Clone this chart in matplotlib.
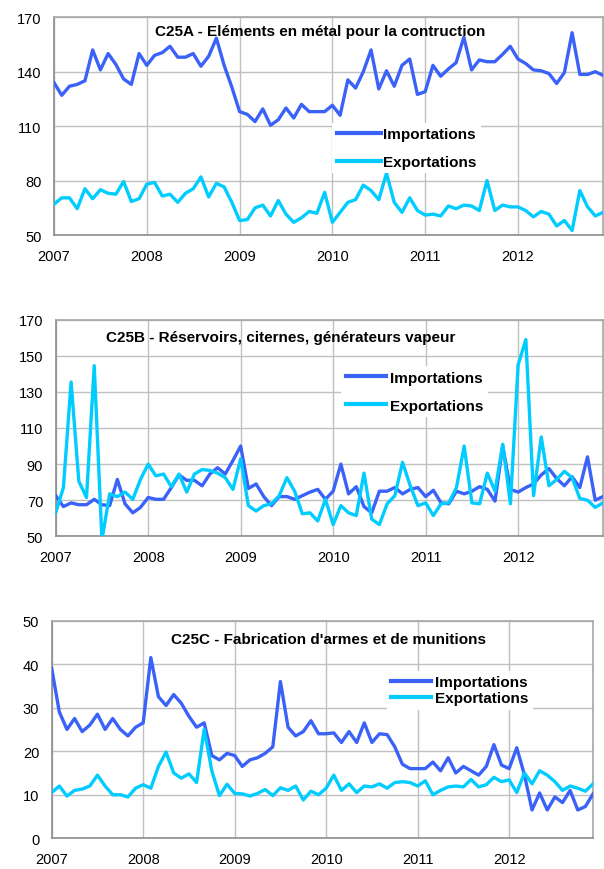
import matplotlib.pyplot as plt

plt.rcParams['font.family'] = ['Liberation Sans', 'DejaVu Sans']

# monthly series, Jan 2007 .. Dec 2012
years = ['2007', '2008', '2009', '2010', '2011', '2012']
months = list(range(72))

c25a_imp = [134, 127, 132, 133, 135, 152, 141, 150, 144, 136, 133, 150,
            143.5, 149, 150.5, 154, 148, 148, 150, 143, 148.5, 158.5, 143.5, 131.5,
            118, 116.5, 112.5, 119.5, 110.5, 113.5, 120, 114.5, 122, 118, 118, 118,
            121.5, 116, 135.5, 131, 140, 152, 130.5, 140.5, 132, 143.5, 147, 127.5,
            129, 143.5, 137.5, 141.5, 145, 159, 141, 146.5, 145.5, 145.5, 149.5, 154,
            147, 144.5, 141, 140.5, 139, 133.5, 139.5, 161.5, 138.5, 138.5, 140, 138]
c25a_exp = [67, 70.5, 70.5, 64.5, 75.5, 70, 75, 73, 72.5, 79.5, 68.5, 70,
            78, 79, 71.5, 72.5, 68, 73, 75.5, 82, 71, 78.5, 76.5, 68,
            58, 58.5, 65, 66.5, 60.5, 69, 61.5, 57, 59.5, 63, 62, 73.5,
            57, 62.5, 68, 69.5, 77.5, 74.5, 69.5, 84, 68, 62.5, 70.5, 63.5,
            61, 61.5, 60.5, 66, 64.5, 66.5, 66, 63.5, 80, 63.5, 66.5, 65.5,
            65.5, 63.5, 60, 63, 61.5, 55, 58, 52.5, 74.5, 65.5, 60.5, 62.5]

c25b_imp = [72.5, 66.5, 68.5, 67.5, 67.5, 70.5, 67.5, 67, 81.5, 68, 63, 66,
            71.5, 70.5, 70.5, 77, 84, 81, 81, 78, 84.5, 88, 84.5, 92,
            100, 76.5, 79, 72, 67, 72, 72, 70.5, 72.5, 74.5, 76, 70.5,
            75, 90, 73.5, 77.5, 66.5, 63, 75, 75, 77, 73.5, 76, 77,
            72, 75.5, 68.5, 68, 75, 73.5, 75, 77.5, 76, 69.5, 100, 76,
            74.5, 77, 79, 84, 87.5, 82, 78, 83, 77, 94, 70, 72]
c25b_exp = [63, 77, 135.5, 80.5, 71.5, 144.5, 48, 73.5, 72, 74.5, 70.5, 81.5,
            90, 83.5, 84.5, 77.5, 84.5, 74.5, 84.5, 87, 86.5, 85, 82.5, 76,
            93, 67, 64, 67, 68, 72.5, 82.5, 75, 62.5, 63, 58.5, 70.5,
            56.5, 67, 63, 61.5, 85, 59.5, 56.5, 68, 72.5, 91, 78, 67,
            68.5, 61.5, 68, 68.5, 77, 100, 68.5, 68, 85, 75, 101, 68,
            145, 159, 72.5, 105, 78, 81.5, 86, 82.5, 71, 70, 66, 68.5]

c25c_imp = [39, 29, 25, 27.5, 24.5, 26, 28.5, 25, 27.5, 25, 23.5, 25.5,
            26.5, 41.5, 32.5, 30.5, 33, 31, 28, 25.5, 26.5, 19, 18, 19.5,
            19, 16.5, 18, 18.5, 19.5, 21, 36, 25.5, 23.5, 24.5, 27, 24,
            24, 24.2, 22, 24.5, 22, 26.5, 22, 24, 23.8, 21, 17, 16,
            16, 16, 17.5, 15.5, 18.5, 15, 16.5, 15.5, 14.5, 16.5, 21.5, 16.8,
            16, 20.8, 14.6, 6.5, 10.4, 6.5, 9.5, 8.2, 11, 6.5, 7.3, 10.2]
c25c_exp = [10.5, 12, 9.7, 11, 11.3, 12, 14.5, 12, 10, 10, 9.5, 11.5,
            12.3, 11.5, 16.5, 19.8, 15, 13.8, 14.8, 12.8, 25, 15.5, 9.8, 12.4,
            10.3, 10.2, 9.7, 10.3, 11.2, 9.8, 11.6, 11, 12, 8.8, 10.8, 10,
            11.5, 14.5, 11, 12.5, 10.5, 12, 11.8, 12.5, 11.5, 12.8, 13, 12.8,
            12, 13.2, 10, 11, 11.8, 12, 11.8, 13.5, 11.8, 12.3, 14, 13,
            13.4, 10.5, 15, 12.5, 15.5, 14.5, 13, 11, 12, 11.5, 10.8, 12.5]

IMP_COLOR = '#3A62F8'
EXP_COLOR = '#00CCFF'
GRID_COLOR = '#C0C0C0'
EDGE_COLOR = '#A6A6A6'


def draw_panel(rect, title, imp, exp, yticks, title_pos, leg_anchor,
               handle_len, text_pad, spacing):
    ax = fig.add_axes(rect)
    ax.plot(months, imp, color=IMP_COLOR, lw=2.4, label='Importations',
            solid_joinstyle='round', zorder=3)
    ax.plot(months, exp, color=EXP_COLOR, lw=2.4, label='Exportations',
            solid_joinstyle='round', zorder=3)

    ax.set_xlim(0, 71)
    ax.set_ylim(yticks[0], yticks[-1])
    ax.set_xticks(range(0, 72, 12))
    ax.set_xticklabels(years)
    ax.set_yticks(yticks)
    ax.grid(True, color=GRID_COLOR, lw=1.0)
    ax.set_axisbelow(True)
    for s in ax.spines.values():
        s.set_color(EDGE_COLOR)
        s.set_linewidth(1.2)
    ax.spines['left'].set_color('#8C8C8C')
    ax.spines['bottom'].set_color('#8C8C8C')
    # no tick marks, only labels
    ax.tick_params(axis='both', labelsize=10.5, length=0)
    ax.tick_params(axis='x', pad=10)
    ax.tick_params(axis='y', pad=9)

    ax.text(title_pos[0], title_pos[1], title, transform=ax.transAxes,
            ha='center', va='center', fontsize=11, fontweight='bold')

    leg = ax.legend(loc='upper left', bbox_to_anchor=leg_anchor,
                    frameon=True, fancybox=False, framealpha=1,
                    facecolor='white', edgecolor='none',
                    prop={'weight': 'bold', 'size': 11},
                    handlelength=handle_len, handletextpad=text_pad,
                    labelspacing=spacing, borderpad=0.3, borderaxespad=0)
    for line in leg.get_lines():
        line.set_linewidth(3.0)
    leg.set_zorder(4)
    return ax


fig = plt.figure(figsize=(6.04, 8.70), dpi=100)

draw_panel([0.0894, 0.7287, 0.9090, 0.2503],
           'C25A - Eléments en métal pour la contruction',
           c25a_imp, c25a_exp, [50, 80, 110, 140, 170],
           (0.485, 0.936), (0.507, 0.515), 2.9, 0.1, 0.88)

draw_panel([0.0922, 0.3824, 0.9060, 0.2490],
           'C25B - Réservoirs, citernes, générateurs vapeur',
           c25b_imp, c25b_exp, [50, 70, 90, 110, 130, 150, 170],
           (0.411, 0.919), (0.522, 0.786), 2.6, 0.3, 0.93)

draw_panel([0.0856, 0.0353, 0.8962, 0.2503],
           "C25C - Fabrication d'armes et de munitions",
           c25c_imp, c25c_exp, [0, 10, 20, 30, 40, 50],
           (0.512, 0.915), (0.619, 0.769), 2.6, 0.25, 0.1)

fig.savefig('out.png', dpi=100)
